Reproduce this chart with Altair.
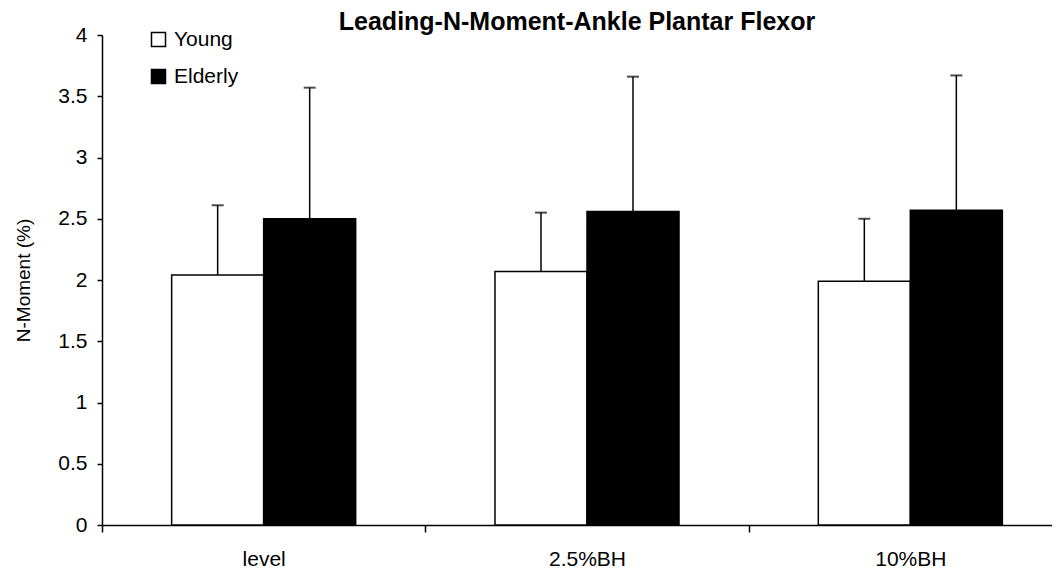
import altair as alt
import pandas as pd

categories = ["level", "2.5%BH", "10%BH"]
groups = ["Young", "Elderly"]
young_mean = [2.04, 2.07, 1.99]
young_sd = [0.57, 0.48, 0.51]
elderly_mean = [2.50, 2.56, 2.57]
elderly_sd = [1.07, 1.10, 1.10]
y_ticks = [0, 0.5, 1, 1.5, 2, 2.5, 3, 3.5, 4]

rows = []
for i, c in enumerate(categories):
    rows.append({"cond": c, "group": "Young", "mean": young_mean[i], "sd": young_sd[i]})
    rows.append({"cond": c, "group": "Elderly", "mean": elderly_mean[i], "sd": elderly_sd[i]})
df = pd.DataFrame(rows)

FONT = "Liberation Sans"

x_enc = alt.X(
    "cond:N", sort=categories,
    scale=alt.Scale(range=[0, 970], paddingInner=0, paddingOuter=0),
    axis=alt.Axis(title=None, labelAngle=0, tickBand="extent", tickSize=7,
                  labelPadding=16, labelFontSize=21, labelFont=FONT,
                  labelColor="black", domainColor="black", tickColor="black",
                  domainWidth=1.5, tickWidth=1.5),
)
xoff = alt.XOffset("group:N", sort=groups,
                   scale=alt.Scale(paddingOuter=0.757, paddingInner=0))


def yaxis(field):
    return alt.Y(
        field, scale=alt.Scale(domain=[0, 4], nice=False),
        axis=alt.Axis(title="N-Moment (%)", values=y_ticks, format="~g", grid=False,
                      tickSize=5, labelPadding=10, labelFontSize=21, labelFont=FONT,
                      labelColor="black", domainColor="black", tickColor="black",
                      domainWidth=1.5, tickWidth=1.5,
                      titleFont=FONT, titleFontSize=19, titleFontWeight="normal",
                      titleColor="black", titlePadding=24),
    )


base = alt.Chart(df).transform_calculate(upper="datum.mean + datum.sd")

bars = base.mark_bar(stroke="black", strokeWidth=1.5).encode(
    x=x_enc, xOffset=xoff, y=yaxis("mean:Q"),
    fill=alt.Fill("group:N", sort=groups,
                  scale=alt.Scale(domain=groups, range=["white", "black"]),
                  legend=alt.Legend(title=None, orient="none", legendX=46, legendY=-6,
                                    symbolType="square", symbolSize=196,
                                    symbolStrokeColor="black", symbolStrokeWidth=1.5,
                                    labelFontSize=21, labelFont=FONT, labelColor="black",
                                    rowPadding=15, labelOffset=5, padding=0)),
)

rules = base.mark_rule(color="black", strokeWidth=1.5).encode(
    x=x_enc, xOffset=xoff, y=yaxis("mean:Q"), y2="upper:Q",
)

caps = base.mark_tick(color="black", thickness=2, size=12).encode(
    x=x_enc, xOffset=xoff, y=yaxis("upper:Q"),
)

chart = alt.layer(bars, rules, caps).properties(
    width=950, height=490,
    title=alt.Title("Leading-N-Moment-Ankle Plantar Flexor", fontSize=25, font=FONT,
                    fontWeight="bold", color="black", anchor="middle", offset=0,
                    baseline="alphabetic", dy=31),
    autosize=alt.AutoSizeParams(type="none"),
    padding={"left": 94, "top": 27, "right": 0, "bottom": 45},
).configure_view(stroke=None)

chart.save("out.html", embed_options={"renderer": "svg", "actions": False})
